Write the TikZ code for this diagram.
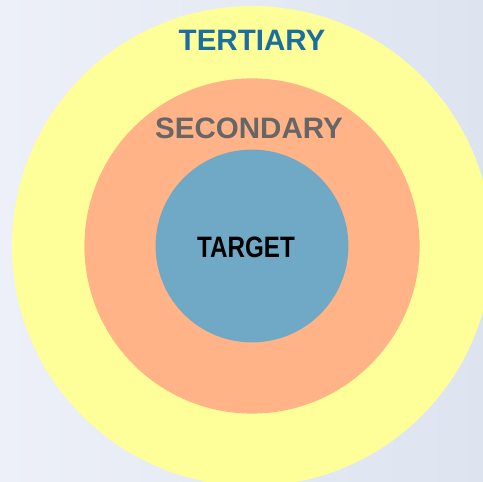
\documentclass[tikz,border=0pt]{standalone}
\usepackage{fontspec}
\setmainfont{Liberation Sans}
\usepackage{graphicx}
\definecolor{bgleft}{HTML}{EDF0F8}
\definecolor{bgright}{HTML}{DDE4F0}
\definecolor{ringyellow}{HTML}{FFFF99}
\definecolor{ringsalmon}{HTML}{FFB386}
\definecolor{ringblue}{HTML}{70A9C6}
\definecolor{tertblue}{HTML}{1B6F9F}
\definecolor{secgray}{HTML}{666666}
\tikzset{
  ring/.style={draw=none},
  ringlabel/.style={font=\fontsize{21}{25}\selectfont\bfseries, inner sep=0pt}
}

\begin{document}
\begin{tikzpicture}
  %%%%% background %%%%%
  \useasboundingbox (0, 0) rectangle (12.075, 12.05);
  \clip (0, 0) rectangle (12.075, 12.05);
  \shade[left color=bgleft, right color=bgright] (0, 0) rectangle (12.075, 12.05);

  %%%%% rings %%%%%
  \coordinate (c) at (6.3, 5.9);
  \fill[ring, ringyellow] (c) circle (6.0);
  \fill[ring, ringsalmon] (c) circle (4.19);
  \fill[ring, ringblue] (c) circle (2.41);

  %%%%% labels %%%%%
  \node[ringlabel, text=tertblue] (tertiary) at (6.3, 11.03) {TERTIARY};
  \node[ringlabel, text=secgray] (secondary) at (6.225, 8.85) {SECONDARY};
  \node[ringlabel, text=black] (target) at (6.15, 5.875) {\scalebox{0.82}[1]{TARGET}};
\end{tikzpicture}
\end{document}
